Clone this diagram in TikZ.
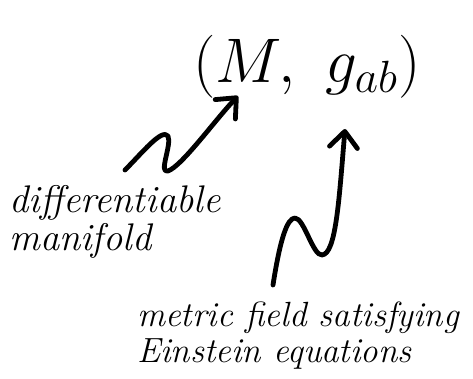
\documentclass[tikz,border=0pt]{standalone}
\usepackage{graphicx}
\usetikzlibrary{arrows.meta}
\begin{document}
\begin{tikzpicture}[x=1pt,y=-1pt,
  wig/.style={line width=4.8pt,line cap=round,line join=round,
    -{Straight Barb[length=16pt,width=28pt,line cap=round,line join=round]}},
  lbl/.style={inner sep=0pt,align=left}]
\useasboundingbox (0,0) rectangle (473,379);
\node[inner sep=0pt,anchor=base west,font=\Huge,scale=2.532] (pair) at (193,83) {$(M,\ g_{\scalebox{0.86}{$\scriptstyle ab$}})$};
\node[lbl,anchor=base west,font=\fontsize{38.5}{38}\selectfont\itshape] (dm) at (9,250) {differentiable\\manifold};
\node[lbl,anchor=base west,font=\fontsize{35}{36}\selectfont\itshape] (mf) at (137,362) {metric field satisfying\\Einstein equations};
\coordinate (s1) at (125,170);
\coordinate (t1) at (238,96);
\coordinate (s2) at (273,285);
\coordinate (t2) at (345,129);
\draw[wig] (s1) .. controls (142,153) and (162,128) .. (168,136)
  .. controls (172,145) and (158,174) .. (168,171)
  .. controls (182,166) and (215,120) .. (t1);
\draw[wig] (s2) .. controls (280,240) and (287,218) .. (295,218)
  .. controls (304,218) and (313,256) .. (322,255)
  .. controls (336,254) and (339,200) .. (t2);
\end{tikzpicture}
\end{document}
